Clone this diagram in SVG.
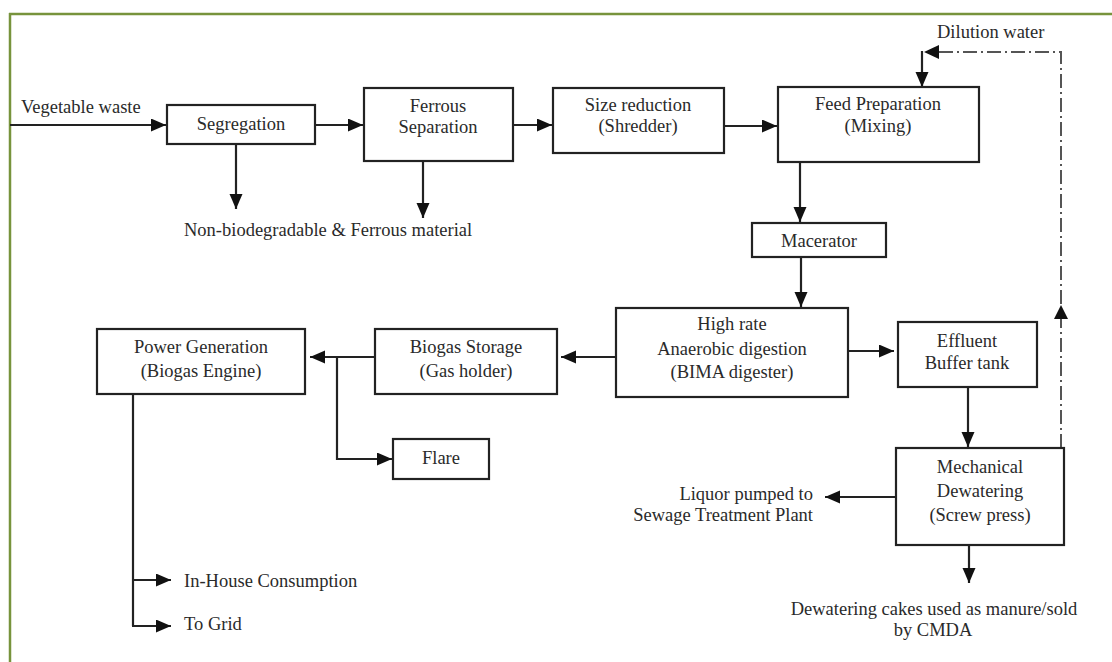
<svg xmlns="http://www.w3.org/2000/svg" width="1112" height="662" viewBox="0 0 1112 662">
  <defs>
    <marker id="arrow" markerUnits="userSpaceOnUse" markerWidth="16" markerHeight="14" refX="15" refY="6.5" orient="auto">
      <path d="M0,0 L15,6.5 L0,13 Z" fill="#111"/>
    </marker>
    <style>
      .box { fill: #fff; stroke: #222; stroke-width: 2.2; }
      .lbl { font-family: 'Liberation Serif', 'DejaVu Serif', serif; font-size: 18.5px; fill: #2a2a2a; }
      .mid { text-anchor: middle; }
      .end { text-anchor: end; }
      .wire { fill: none; stroke: #222; stroke-width: 2.2; }
      .flow { fill: none; stroke: #222; stroke-width: 2.2; marker-end: url(#arrow); }
      .recycle { fill: none; stroke: #555; stroke-width: 2; stroke-dasharray: 14 4 2 4; }
    </style>
  </defs>

  <rect width="1112" height="662" fill="#fff"/>

  <!-- frame: top and left rules -->
  <g id="frame" stroke="#77933C" stroke-width="2.5">
    <line x1="9" y1="14" x2="1112" y2="14"/>
    <line x1="10" y1="13" x2="10" y2="662"/>
  </g>

  <!-- connectors -->
  <g id="connectors">
    <path class="flow" d="M10,125 H166"/>
    <path class="flow" d="M315,125 H363"/>
    <path class="flow" d="M513,125 H552"/>
    <path class="flow" d="M724,126 H777"/>
    <path class="flow" d="M236,144 V209"/>
    <path class="flow" d="M423,161 V218"/>
    <path class="flow" d="M800,162 V222"/>
    <path class="flow" d="M801,257 V307"/>
    <path class="flow" d="M616,357 H561"/>
    <path class="flow" d="M375,357 H310"/>
    <path class="flow" d="M337,357 V459 H392"/>
    <path class="wire" d="M133,394 V626"/>
    <path class="flow" d="M132,580 H171"/>
    <path class="flow" d="M132,626 H171"/>
    <path class="flow" d="M848,351 H894"/>
    <path class="flow" d="M968,387 V447"/>
    <path class="flow" d="M896,497 H825"/>
    <path class="flow" d="M969,545 V583"/>
    <!-- dilution water recycle (dash-dot) -->
    <path class="recycle" d="M1061,448 V52 H938"/>
    <path d="M1054,319 L1061,305 L1068,319 Z" fill="#111"/>
    <path d="M939,45 L924,52 L939,59 Z" fill="#111"/>
    <path class="flow" d="M922,51 V87"/>
  </g>

  <g id="n-vegetable">
    <text class="lbl" x="21" y="113">Vegetable waste</text>
  </g>

  <g id="n-segregation">
    <rect class="box" x="167" y="105" width="148" height="39"/>
    <text class="lbl mid" x="241" y="130">Segregation</text>
  </g>

  <g id="n-ferrous">
    <rect class="box" x="364" y="88" width="149" height="73"/>
    <text class="lbl mid" x="438" y="112">Ferrous</text>
    <text class="lbl mid" x="438" y="133">Separation</text>
  </g>

  <g id="n-size">
    <rect class="box" x="553" y="88" width="171" height="65"/>
    <text class="lbl mid" x="638" y="111">Size reduction</text>
    <text class="lbl mid" x="638" y="132">(Shredder)</text>
  </g>

  <g id="n-feed">
    <rect class="box" x="778" y="87" width="201" height="75"/>
    <text class="lbl mid" x="878" y="110">Feed Preparation</text>
    <text class="lbl mid" x="878" y="132">(Mixing)</text>
  </g>

  <g id="n-dilution">
    <text class="lbl" x="937" y="38">Dilution water</text>
  </g>

  <g id="n-rejects">
    <text class="lbl" x="184" y="236">Non-biodegradable &amp; Ferrous material</text>
  </g>

  <g id="n-macerator">
    <rect class="box" x="752" y="223" width="134" height="34"/>
    <text class="lbl mid" x="819" y="247">Macerator</text>
  </g>

  <g id="n-digester">
    <rect class="box" x="616" y="308" width="232" height="89"/>
    <text class="lbl mid" x="732" y="330">High rate</text>
    <text class="lbl mid" x="732" y="355">Anaerobic digestion</text>
    <text class="lbl mid" x="732" y="378">(BIMA digester)</text>
  </g>

  <g id="n-effluent">
    <rect class="box" x="898" y="322" width="139" height="65"/>
    <text class="lbl mid" x="967" y="347">Effluent</text>
    <text class="lbl mid" x="967" y="369">Buffer tank</text>
  </g>

  <g id="n-storage">
    <rect class="box" x="375" y="329" width="182" height="65"/>
    <text class="lbl mid" x="466" y="353">Biogas Storage</text>
    <text class="lbl mid" x="466" y="377">(Gas holder)</text>
  </g>

  <g id="n-power">
    <rect class="box" x="97" y="329" width="208" height="65"/>
    <text class="lbl mid" x="201" y="353">Power Generation</text>
    <text class="lbl mid" x="201" y="377">(Biogas Engine)</text>
  </g>

  <g id="n-flare">
    <rect class="box" x="393" y="439" width="96" height="40"/>
    <text class="lbl mid" x="441" y="464">Flare</text>
  </g>

  <g id="n-dewatering">
    <rect class="box" x="896" y="448" width="168" height="97"/>
    <text class="lbl mid" x="980" y="473">Mechanical</text>
    <text class="lbl mid" x="980" y="497">Dewatering</text>
    <text class="lbl mid" x="980" y="521">(Screw press)</text>
  </g>

  <g id="n-liquor">
    <text class="lbl end" x="813" y="500">Liquor pumped to</text>
    <text class="lbl end" x="813" y="521">Sewage Treatment Plant</text>
  </g>

  <g id="n-cakes">
    <text class="lbl mid" x="934" y="615">Dewatering cakes used as manure/sold</text>
    <text class="lbl mid" x="933" y="636">by CMDA</text>
  </g>

  <g id="n-inhouse">
    <text class="lbl" x="184" y="587">In-House Consumption</text>
  </g>

  <g id="n-grid">
    <text class="lbl" x="184" y="630">To Grid</text>
  </g>
</svg>
